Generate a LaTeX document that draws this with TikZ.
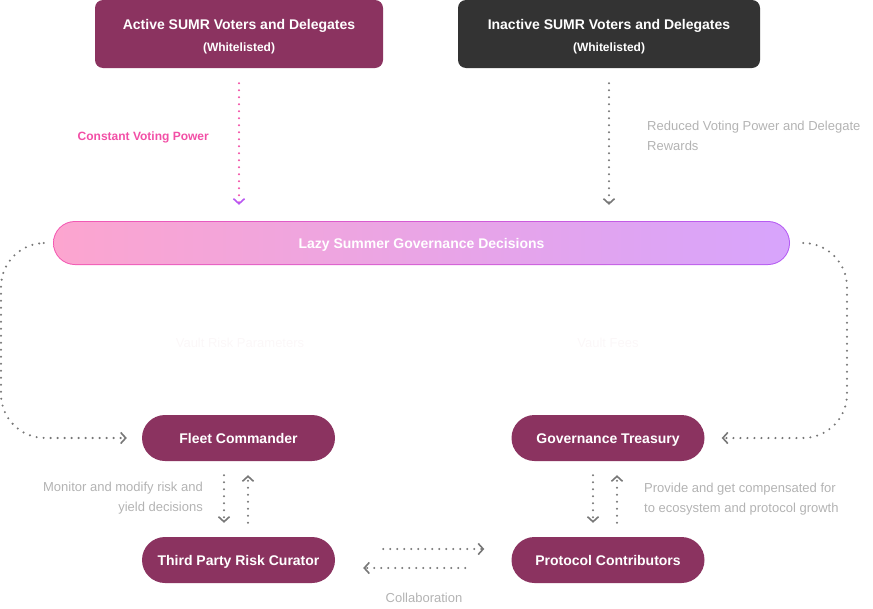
\documentclass[tikz,border=0pt]{standalone}
\usepackage{fontspec}
\setmainfont{Liberation Sans}
\usepackage{xcolor}
\usetikzlibrary{arrows.meta, positioning}
\definecolor{summaroon}{HTML}{8B3360}
\definecolor{sumdark}{HTML}{333333}
\definecolor{flowgray}{HTML}{777777}
\definecolor{notegray}{HTML}{B3B3B3}
\definecolor{faintgray}{HTML}{FBF7F8}
\definecolor{votepink}{HTML}{F24FA6}
\definecolor{tipviolet}{HTML}{B957F2}
\definecolor{barpink}{HTML}{FCA5CF}
\definecolor{barviolet}{HTML}{D7A4FC}
\definecolor{linepink}{HTML}{F45AB2}
\definecolor{lineviolet}{HTML}{B45CF4}
\tikzset{
  topbox/.style={minimum width=288pt, minimum height=68pt, rounded corners=8pt, text=white, align=center, font=\bfseries\fontsize{14}{17}\selectfont},
  govbox/.style={fill=summaroon, text=white, minimum width=193pt, minimum height=46pt, rounded corners=23pt, text height=10pt, text depth=0pt, font=\bfseries\fontsize{14}{16}\selectfont},
  flow/.style={draw=flowgray, line width=2.3pt, line cap=round, dash pattern=on 0pt off 7pt, -{Straight Barb[length=5pt,width=11pt,line width=1.6pt]}},
  pinkflow/.style={flow, draw=votepink, -{Straight Barb[length=5pt,width=11pt,line width=1.6pt,color=tipviolet]}},
  note/.style={text=notegray, inner sep=0pt, font=\fontsize{13}{20}\selectfont}
}
\begin{document}
\begin{tikzpicture}[x=1pt, y=-1pt]
\useasboundingbox (0,0) rectangle (873,608);
\node [topbox, fill=summaroon] (active) at (239,34) {\rule{0pt}{14.5pt}Active SUMR Voters and Delegates\\[5pt]{\fontsize{12}{14}\selectfont (Whitelisted)}};
\node [topbox, fill=sumdark, minimum width=302pt] (inactive) at (609,34) {\rule{0pt}{14.5pt}Inactive SUMR Voters and Delegates\\[5pt]{\fontsize{12}{14}\selectfont (Whitelisted)}};
\node [minimum width=737pt, minimum height=44pt, rounded corners=22pt, left color=linepink, right color=lineviolet] (bar) at (421.5,243) {};
\node [minimum width=735pt, minimum height=42pt, rounded corners=21pt, left color=barpink, right color=barviolet, text=white, text height=10pt, text depth=0pt, font=\bfseries\fontsize{14}{16}\selectfont] (bartext) at (bar.center) {Lazy Summer Governance Decisions};
\node [govbox] (fleet) at (238.5,438) {Fleet Commander};
\node [govbox] (treasury) at (608,438) {Governance Treasury};
\node [govbox] (curator) at (238.5,560) {Third Party Risk Curator};
\node [govbox] (contrib) at (608,560) {Protocol Contributors};
\coordinate (lside) at (1,0);
\coordinate (rside) at (847,0);
\draw [pinkflow, shorten <=15pt, shorten >=16pt] (active) -- (active |- bar.north);
\draw [flow, shorten <=15pt, shorten >=16pt] (inactive) -- (inactive |- bar.north);
\draw [flow, rounded corners=44pt, shorten <=9pt, shorten >=15pt] (bar.west) -| (lside |- fleet.west) -- (fleet.west);
\draw [flow, rounded corners=44pt, shorten <=13pt, shorten >=17pt] (bar.east) -| (rside |- treasury.east) -- (treasury.east);
\draw [flow, shorten <=14pt, shorten >=14pt] ([xshift=-14.5pt]fleet.south) -- ([xshift=-14.5pt]curator.north);
\draw [flow, shorten <=14pt, shorten >=14pt] ([xshift=9.5pt]curator.north) -- ([xshift=9.5pt]fleet.south);
\draw [flow, shorten <=14pt, shorten >=14pt] ([xshift=-15pt]treasury.south) -- ([xshift=-15pt]contrib.north);
\draw [flow, shorten <=14pt, shorten >=14pt] ([xshift=9pt]contrib.north) -- ([xshift=9pt]treasury.south);
\draw [flow, shorten <=48pt, shorten >=27pt] ([yshift=11pt]curator.east) -- ([yshift=11pt]contrib.west);
\draw [flow, shorten <=46pt, shorten >=28pt] ([yshift=-8pt]contrib.west) -- ([yshift=-8pt]curator.east);
\node [anchor=east, inner sep=0pt, text=votepink, font=\bfseries\fontsize{12}{14}\selectfont] (constant) at (209,137) {Constant Voting Power};
\node [note, anchor=west, align=left] (reduced) at (647,136) {Reduced Voting Power and Delegate\\Rewards};
\node [note, anchor=east, align=right] (monitor) at (203,498) {Monitor and modify risk and\\yield decisions};
\node [note, anchor=west, align=left] (provide) at (644,499) {Provide and get compensated for\\to ecosystem and protocol growth};
\node [note] (collab) at (424,598) {Collaboration};
\node [note, text=faintgray] (riskparams) at (240,343) {Vault Risk Parameters};
\node [note, text=faintgray] (fees) at (608,343) {Vault Fees};
\end{tikzpicture}
\end{document}
